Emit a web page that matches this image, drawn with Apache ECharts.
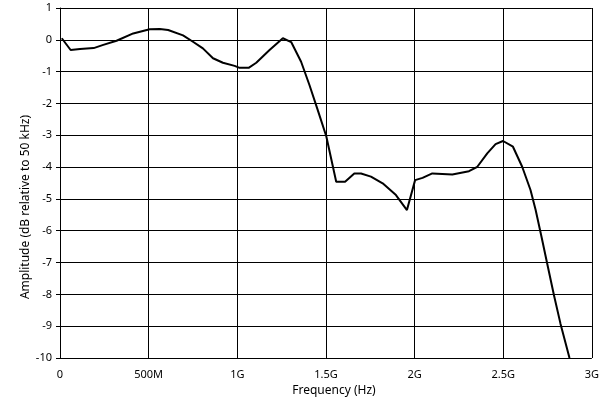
<!DOCTYPE html>
<html>
<head>
<meta charset="utf-8">
<script src="https://cdn.jsdelivr.net/npm/echarts@6/dist/echarts.min.js"></script>
<style>html,body{margin:0;padding:0;background:#fff}#c{width:602px;height:404px}</style>
</head>
<body>
<div id="c"></div>
<script>
// Frequency in GHz
var freqGHz = [0.01, 0.06, 0.113, 0.19, 0.244, 0.319, 0.413, 0.506, 0.563, 0.61, 0.694, 0.75, 0.806, 0.863, 0.919, 0.985, 1.013, 1.064, 1.107, 1.182, 1.257, 1.304, 1.36, 1.407, 1.454, 1.502, 1.558, 1.608, 1.66, 1.698, 1.754, 1.82, 1.895, 1.957, 2.003, 2.045, 2.1, 2.213, 2.307, 2.354, 2.41, 2.457, 2.499, 2.555, 2.607, 2.654, 2.683, 2.716, 2.748, 2.786, 2.823, 2.874];
var amplitudeDb = [0.05, -0.32, -0.29, -0.26, -0.16, -0.03, 0.2, 0.33, 0.34, 0.31, 0.14, -0.06, -0.27, -0.58, -0.72, -0.82, -0.88, -0.88, -0.72, -0.32, 0.05, -0.07, -0.69, -1.42, -2.21, -3.03, -4.46, -4.46, -4.2, -4.2, -4.3, -4.51, -4.88, -5.35, -4.41, -4.34, -4.2, -4.23, -4.13, -3.99, -3.57, -3.28, -3.18, -3.36, -3.99, -4.72, -5.35, -6.19, -7.03, -8.02, -8.92, -10.0];
var xTickLabels = ['0', '500M', '1G', '1.5G', '2G', '2.5G', '3G'];
var yTicks = [-10, -9, -8, -7, -6, -5, -4, -3, -2, -1, 0, 1];

var data = freqGHz.map(function (f, i) { return [f * 1e9, amplitudeDb[i]]; });
var font = 'Noto Sans';
var chart = echarts.init(document.getElementById('c'), null, {renderer: 'canvas'});
chart.setOption({
  animation: false,
  backgroundColor: '#fff',
  grid: {left: 60, right: 9, top: 8, bottom: 46, containLabel: false},
  xAxis: {
    type: 'value', min: 0, max: 3e9, interval: 5e8,
    name: 'Frequency (Hz)', nameLocation: 'middle', nameGap: 27, nameMoveOverlap: false,
    nameTextStyle: {color: '#000', fontFamily: font, fontSize: 12, padding: [0, 0, 0, 16]},
    axisLine: {show: true, lineStyle: {color: '#000', width: 1}},
    axisTick: {show: false},
    axisLabel: {color: '#000', fontFamily: font, fontSize: 11, margin: 11,
      formatter: function (v) { return xTickLabels[Math.round(v / 5e8)]; }},
    splitLine: {show: true, lineStyle: {color: '#000', width: 1}}
  },
  yAxis: {
    type: 'value', min: yTicks[0], max: yTicks[yTicks.length - 1], interval: 1,
    name: 'Amplitude (dB relative to 50 kHz)', nameLocation: 'middle', nameGap: 28, nameMoveOverlap: false,
    nameTextStyle: {color: '#000', fontFamily: font, fontSize: 12, padding: [0, 48, 0, 0]},
    axisLine: {show: true, lineStyle: {color: '#000', width: 1}},
    axisTick: {show: true, length: 4, lineStyle: {color: '#000'}},
    axisLabel: {color: '#000', fontFamily: font, fontSize: 11, margin: 8},
    splitLine: {show: true, lineStyle: {color: '#000', width: 1}}
  },
  series: [{
    type: 'line', data: data, showSymbol: false, symbol: 'none',
    lineStyle: {color: '#000', width: 2}, smooth: false
  }]
});
</script>
</body>
</html>
